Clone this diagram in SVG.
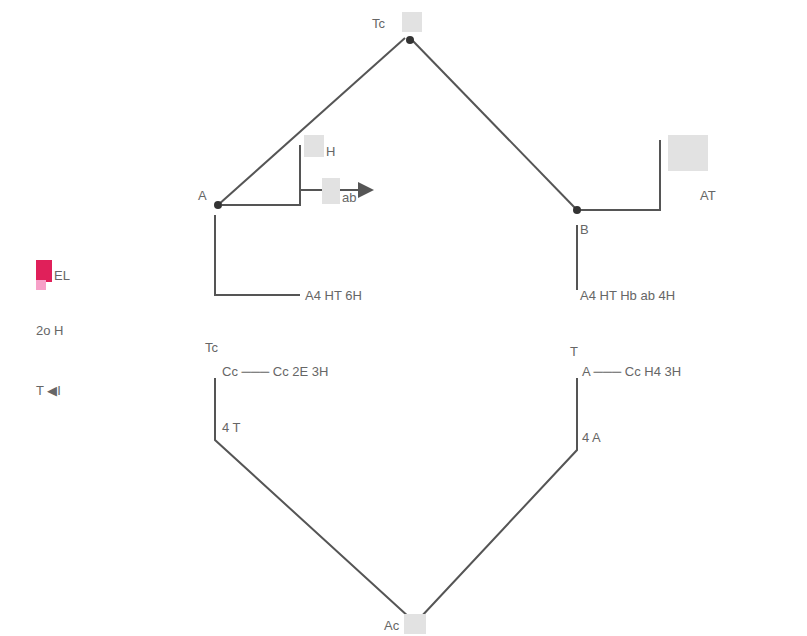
<svg xmlns="http://www.w3.org/2000/svg" width="807" height="636" viewBox="0 0 807 636">
<style>
.ln{stroke:#555;stroke-width:2;fill:none}
.t{font-family:"Liberation Sans",Arial,sans-serif;font-size:13px;fill:#666}
.dot{fill:#333}
</style>
<defs>
<marker id="ah" markerWidth="8" markerHeight="8" refX="7" refY="4" orient="auto"><path d="M0,0 L8,4 L0,8 z" fill="#555"/></marker>
</defs>
<rect width="807" height="636" fill="#fff"/>
<g id="connectors">
<path class="ln" d="M405,38 L218,205"/>
<path class="ln" d="M412,40 L577,210"/>
<path class="ln" d="M222,205 L300,205 L300,145"/>
<path class="ln" d="M300,190 L372,190" marker-end="url(#ah)"/>
<path class="ln" d="M215,215 L215,295 L300,295"/>
<path class="ln" d="M580,210 L660,210 L660,140"/>
<path class="ln" d="M577,225 L577,290"/>
<path class="ln" d="M215,378 L215,440 L410,618"/>
<path class="ln" d="M577,378 L577,450 L420,618"/>
</g>
<g id="top"><circle class="dot" cx="410" cy="40" r="4"/><rect x="402" y="12" width="20" height="20" fill="#e2e2e2"/><text class="t" x="372" y="28">Tc</text></g>
<g id="left"><circle class="dot" cx="218" cy="205" r="4"/><text class="t" x="198" y="200">A</text></g>
<g id="left-branch"><rect x="304" y="135" width="20" height="22" fill="#e2e2e2"/><text class="t" x="326" y="156">H</text><rect x="322" y="178" width="18" height="26" fill="#e2e2e2"/><text class="t" x="342" y="202">ab</text></g>
<g id="right"><circle class="dot" cx="577" cy="210" r="4"/><text class="t" x="580" y="234">B</text></g>
<g id="right-branch"><rect x="668" y="135" width="40" height="36" fill="#e2e2e2"/><text class="t" x="700" y="200">AT</text></g>
<g id="left-row1"><text class="t" x="305" y="300">A4 HT 6H</text></g>
<g id="right-row1"><text class="t" x="580" y="300">A4 HT Hb ab 4H</text></g>
<g id="left-row2"><text class="t" x="205" y="352">Tc</text><text class="t" x="222" y="376">Cc ─── Cc 2E 3H</text></g>
<g id="right-row2"><text class="t" x="570" y="356">T</text><text class="t" x="582" y="376">A ─── Cc H4 3H</text></g>
<g id="left-lower"><text class="t" x="222" y="432">4 T</text></g>
<g id="right-lower"><text class="t" x="582" y="442">4 A</text></g>
<g id="bottom"><rect x="404" y="614" width="22" height="20" fill="#e2e2e2"/><text class="t" x="384" y="630">Ac</text></g>
<g id="legend"><rect x="36" y="260" width="16" height="22" fill="#e0205a"/><rect x="36" y="280" width="10" height="10" fill="#f7a0c8"/><text class="t" x="54" y="280">EL</text><text class="t" x="36" y="335">2o H</text><text class="t" x="36" y="395">T ◀I</text></g>
</svg>
